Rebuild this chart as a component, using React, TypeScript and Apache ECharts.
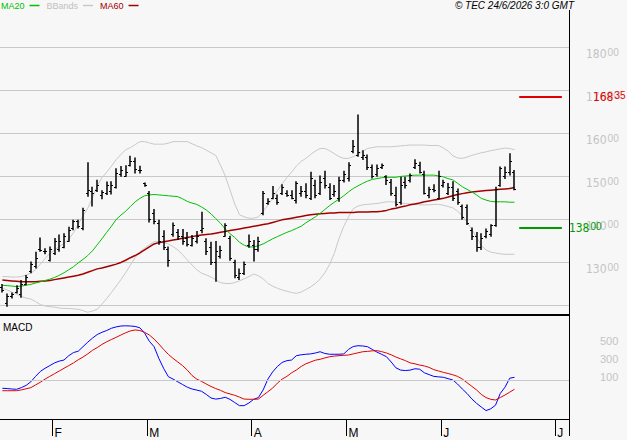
import React, { useEffect, useRef } from 'react';
import * as echarts from 'echarts';

const SLOT_COUNT = 120;
const monthLabels = ['F', 'M', 'A', 'M', 'J', 'J'];
const monthStart = [11, 31, 53, 73, 93, 117];
const priceLabelValues = [130, 140, 150, 160, 170, 180];
const macdLabelValues = [100, 300, 500];
const levelValues = [168.35, 138.0];
const levelColors = ['#e00000', '#009900'];

const open = [
  124.3, 120.5, 122.0, 123.0, 122.5, 125.0, 127.8, 129.0, 133.0, 132.5,
  130.5, 132.0, 133.0, 133.5, 135.0, 137.8, 139.5, 138.0, 146.0, 146.5,
  146.8, 145.5, 146.0, 146.5, 147.5, 150.5, 150.0, 152.6, 153.5, 151.5,
  148.3, 146.0, 141.5, 139.0, 136.0, 133.0, 136.5, 137.0, 136.0, 135.5,
  134.0, 135.0, 137.5, 135.0, 133.5, 130.0, 131.5, 136.0, 135.5, 130.0,
  126.5, 127.5, 134.0, 134.0, 133.0, 141.5, 143.8, 145.0, 145.0, 146.0,
  146.0, 145.5, 144.5, 146.0, 146.5, 145.0, 148.0, 146.0, 149.5, 147.5,
  145.8, 145.0, 149.0, 149.5, 155.8, 155.0, 154.5, 154.5, 152.0, 150.5,
  152.0, 150.0, 148.5, 145.5, 144.0, 148.5, 149.0, 152.0, 152.5, 150.5,
  145.5, 147.0, 145.0, 148.0, 146.0, 147.5, 146.5, 143.0, 142.8, 137.5,
  136.0, 133.5, 136.0, 136.5, 138.5, 148.0, 150.0, 151.0, 151.0,
];
const close = [
  123.6, 122.2, 122.6, 124.0, 125.0, 126.5, 129.5, 131.0, 132.8, 132.6,
  133.0, 134.8, 135.0, 136.0, 137.5, 139.5, 138.3, 142.0, 146.8, 146.0,
  147.8, 146.2, 147.8, 148.0, 150.8, 151.5, 151.0, 153.5, 151.6, 151.4,
  147.8, 140.0, 139.5, 135.0, 133.5, 130.5, 138.6, 136.0, 135.0, 134.2,
  135.5, 136.0, 138.0, 132.5, 130.0, 132.5, 132.8, 138.5, 131.0, 127.0,
  127.5, 129.5, 135.0, 133.0, 135.0, 146.0, 144.2, 146.0, 144.0, 147.5,
  145.6, 145.0, 148.3, 146.5, 145.5, 149.5, 145.5, 148.5, 148.0, 145.0,
  146.5, 149.0, 150.5, 152.5, 157.0, 155.5, 155.0, 152.0, 150.0, 151.8,
  152.5, 149.0, 146.0, 143.5, 148.0, 148.0, 150.2, 153.0, 151.0, 146.0,
  147.0, 146.8, 150.0, 148.5, 147.5, 145.0, 144.0, 140.5, 139.0, 136.0,
  133.5, 135.5, 137.2, 138.5, 147.0, 151.8, 151.0, 153.5, 147.0,
];
const low = [
  122.9, 119.6, 121.5, 122.7, 121.7, 124.6, 127.4, 128.5, 132.4, 131.8,
  130.1, 131.6, 132.4, 133.2, 134.7, 137.4, 137.8, 137.4, 145.2, 142.9,
  146.3, 144.6, 145.6, 145.7, 147.1, 149.8, 149.8, 152.2, 150.6, 150.6,
  147.5, 139.2, 138.8, 134.0, 132.8, 128.9, 135.9, 135.1, 134.0, 133.6,
  133.6, 134.3, 136.7, 131.6, 129.3, 125.4, 130.8, 135.9, 130.3, 126.2,
  125.8, 127.0, 133.3, 130.1, 132.4, 140.9, 143.3, 144.6, 143.3, 145.6,
  145.2, 144.6, 143.6, 145.2, 144.8, 144.4, 144.8, 145.6, 147.1, 144.4,
  145.2, 144.0, 148.5, 148.7, 155.3, 154.5, 153.7, 151.4, 149.4, 149.8,
  151.6, 147.9, 145.4, 142.9, 143.3, 147.1, 148.5, 151.6, 150.6, 145.7,
  144.8, 146.2, 144.6, 147.3, 145.6, 144.2, 143.3, 139.8, 138.6, 135.1,
  132.4, 132.8, 135.5, 135.9, 138.2, 147.5, 149.3, 150.1, 146.7,
];
const high = [
  124.9, 122.7, 122.9, 124.6, 125.8, 127.0, 130.1, 132.4, 135.7, 133.2,
  133.6, 135.6, 136.4, 136.7, 138.2, 139.8, 139.8, 142.6, 153.2, 147.5,
  149.1, 146.7, 148.7, 148.8, 151.8, 152.3, 152.5, 154.7, 154.3, 152.4,
  148.5, 146.5, 142.3, 139.8, 137.4, 133.6, 139.2, 137.7, 137.7, 137.0,
  136.3, 137.2, 141.7, 135.5, 134.7, 134.9, 133.8, 139.0, 136.1, 130.5,
  128.5, 130.1, 136.4, 135.1, 135.9, 146.5, 144.8, 147.7, 145.7, 148.1,
  146.7, 146.7, 148.8, 147.7, 148.3, 151.0, 149.1, 150.1, 151.2, 148.3,
  147.9, 149.8, 151.2, 153.2, 158.4, 164.3, 156.0, 155.0, 152.7, 152.7,
  152.9, 150.2, 149.3, 147.5, 149.8, 149.8, 150.6, 153.9, 153.3, 151.2,
  147.5, 148.1, 151.2, 149.1, 148.4, 148.8, 147.1, 143.4, 143.4, 138.0,
  137.0, 136.7, 137.8, 138.8, 147.5, 152.2, 152.2, 155.3, 151.4,
];
const ma20 = [
  124.6, 124.5, 124.4, 124.3, 124.4, 124.6, 124.8, 125.1, 125.4, 125.7,
  126.0, 126.4, 126.9, 127.5, 128.2, 128.9, 129.8, 130.6, 131.5, 132.6,
  134.0, 135.4, 136.9, 138.3, 139.9, 140.9, 141.8, 142.9, 144.0, 144.8,
  145.4, 145.6, 145.7, 145.6, 145.5, 145.4, 145.3, 145.2, 144.7, 144.1,
  143.7, 143.4, 142.8, 142.1, 141.2, 140.1, 139.0, 137.7, 136.6, 135.7,
  134.6, 133.9, 133.5, 133.5, 133.8, 134.2, 134.8, 135.4, 135.9, 136.4,
  136.9, 137.3, 137.8, 138.3, 139.1, 139.8, 140.5, 141.3, 142.2, 143.1,
  143.9, 144.6, 145.4, 146.3, 147.1, 147.7, 148.3, 148.8, 149.2, 149.4,
  149.6, 149.7, 149.7, 149.7, 149.9, 150.0, 150.1, 150.2, 150.2, 150.2,
  150.2, 150.2, 150.0, 149.8, 149.4, 149.1, 148.3, 147.5, 146.9, 146.3,
  145.6, 144.8, 144.4, 144.1, 144.0, 144.0, 144.0, 143.9, 143.9,
];
const ma60 = [
  125.8, 125.7, 125.6, 125.5, 125.4, 125.4, 125.4, 125.4, 125.5, 125.6,
  125.7, 125.9, 126.1, 126.3, 126.5, 126.7, 126.9, 127.2, 127.6, 128.0,
  128.4, 128.6, 128.9, 129.2, 129.5, 129.9, 130.4, 131.0, 131.5, 132.1,
  132.8, 133.5, 134.2, 134.5, 134.7, 134.9, 135.1, 135.3, 135.5, 135.7,
  135.9, 136.1, 136.3, 136.4, 136.5, 136.7, 136.9, 137.1, 137.3, 137.5,
  137.7, 137.9, 138.1, 138.3, 138.5, 138.7, 138.9, 139.2, 139.5, 139.8,
  140.0, 140.2, 140.4, 140.6, 140.8, 141.0, 141.1, 141.2, 141.3, 141.4,
  141.4, 141.5, 141.5, 141.5, 141.5, 141.6, 141.6, 141.6, 141.7, 141.7,
  141.8, 142.0, 142.3, 142.5, 142.8, 143.0, 143.3, 143.5, 143.7, 144.0,
  144.2, 144.4, 144.6, 144.8, 145.1, 145.4, 145.7, 145.9, 146.1, 146.3,
  146.4, 146.5, 146.6, 146.7, 146.8, 146.9, 147.0, 147.1, 147.3,
];
const bbUpper = [
  126.6, 126.6, 126.5, 126.5, 126.6, 127.0, 127.4, 128.2, 129.5, 130.8,
  132.0, 132.8, 133.6, 134.3, 135.3, 136.8, 138.8, 140.7, 142.5, 144.9,
  147.7, 149.6, 150.9, 152.3, 153.8, 155.0, 156.1, 156.6, 157.3, 158.0,
  158.0, 157.7, 157.4, 157.4, 157.4, 157.6, 158.0, 158.0, 158.0, 158.0,
  157.5, 157.0, 156.6, 156.0, 155.4, 154.8, 152.5, 150.0, 146.8, 143.5,
  141.0, 140.5, 140.2, 140.2, 140.5, 141.8, 143.2, 144.8, 146.6, 148.2,
  149.6, 150.9, 152.3, 153.4, 154.1, 155.0, 155.8, 156.4, 156.4, 155.9,
  155.2, 154.5, 154.1, 154.1, 154.5, 155.0, 155.8, 156.4, 156.6, 156.8,
  156.8, 156.8, 156.8, 156.9, 157.0, 157.1, 157.2, 157.2, 157.2, 157.2,
  157.1, 157.1, 157.1, 156.5, 155.8, 154.7, 154.2, 154.1, 154.4, 154.8,
  155.1, 155.4, 155.6, 155.9, 156.1, 156.3, 156.5, 156.4, 156.1,
];
const bbLower = [
  123.9, 123.5, 123.0, 122.5, 122.0, 121.6, 121.4, 120.8, 120.1, 119.8,
  119.6, 119.5, 119.3, 119.2, 119.2, 119.1, 119.0, 118.7, 118.3, 118.6,
  119.0, 120.2, 121.5, 122.9, 124.4, 125.9, 127.5, 129.3, 131.0, 132.4,
  133.2, 134.0, 134.7, 134.8, 134.6, 134.2, 133.6, 132.8, 131.7, 130.5,
  129.3, 128.2, 127.4, 127.0, 126.5, 125.9, 125.2, 125.0, 125.0, 125.2,
  125.6, 126.1, 126.6, 127.2, 126.8, 126.1, 125.0, 124.4, 123.9, 123.5,
  123.2, 122.9, 122.7, 123.0, 123.6, 124.2, 125.0, 126.0, 127.5, 129.4,
  132.0, 135.5, 138.3, 140.5, 142.4, 143.0, 143.3, 143.4, 143.5, 143.6,
  143.8, 144.0, 144.0, 143.9, 143.7, 143.6, 143.5, 143.4, 143.3, 143.3,
  143.3, 143.4, 143.4, 143.2, 142.9, 142.6, 141.8, 140.8, 139.2, 137.6,
  135.8, 133.8, 132.8, 132.3, 132.1, 131.9, 131.8, 131.8, 131.8,
];
const macd = [
  -92, -95, -100, -103, -85, -60, -20, 40, 95, 130,
  160, 190, 210, 222, 270, 305, 320, 370, 420, 465,
  505, 530, 550, 575, 590, 600, 602, 600, 595, 580,
  520, 430, 370, 240, 130, 37, 10, -20, -50, -80,
  -100, -112, -125, -160, -200, -212, -205, -192, -215, -250,
  -285, -285, -255, -215, -195, -110, 10, 90, 150, 195,
  215, 222, 270, 280, 286, 290, 300, 314, 295, 286,
  286, 286, 290, 340, 372, 381, 378, 370, 340, 310,
  285, 259, 200, 135, 110, 105, 110, 125, 120, 80,
  60, 40, 35, 30, 15, 0, -45, -100, -150, -210,
  -259, -300, -340, -320, -280, -150, -80, 20, 30,
];
const signal = [
  -119, -119, -119, -119, -110, -98, -85, -55, -25, 10,
  40, 70, 100, 130, 160, 190, 225, 255, 290, 330,
  360, 395, 425, 450, 474, 500, 525, 545, 556, 550,
  530, 500, 455, 400, 340, 285, 240, 200, 160, 110,
  50, 10, -15, -45, -72, -95, -115, -140, -155, -170,
  -190, -212, -214, -214, -212, -170, -130, -90, -35, 10,
  40, 80, 111, 150, 180, 200, 220, 230, 245, 258,
  266, 270, 274, 278, 290, 302, 314, 318, 324, 326,
  315, 300, 280, 255, 235, 215, 190, 180, 166, 156,
  140, 115, 100, 85, 72, 58, 40, 10, -30, -70,
  -110, -160, -195, -215, -222, -195, -167, -135, -103,
];

const FONT = '"Liberation Sans", Arial, sans-serif';
const NARROW = '"Liberation Sans Narrow", "DejaVu Sans Condensed", "Liberation Sans", Arial, sans-serif';

function supText(v: number) {
  const [a, b] = v.toFixed(2).split('.');
  return `{a|${a}}{b|${b}}`;
}

export default function App() {
  const ref = useRef<HTMLDivElement>(null);
  useEffect(() => {
    const chart = echarts.init(ref.current!, null, { renderer: 'svg' });
    const categories = Array.from({ length: SLOT_COUNT }, (_, i) => {
      const k = monthStart.indexOf(i);
      return k >= 0 ? monthLabels[k] : '';
    });
    const ohlc = open.map((o, i) => [i, o, close[i], low[i], high[i]]);
    const isMonth = (i: number) => monthStart.indexOf(i) >= 0;
    const supRich = (color: string) => ({
      a: { fontSize: 12, color, fontFamily: NARROW, lineHeight: 13 },
      b: { fontSize: 10, color, fontFamily: FONT, verticalAlign: 'top', lineHeight: 13, padding: [0, 0, 0, 1] },
    });
    const xBase = {
      type: 'category',
      data: categories,
      boundaryGap: true,
      axisLine: { show: false },
      axisTick: { show: false },
      axisLabel: { show: false },
      splitLine: { show: false },
    };
    const lineSeries = (name: string, data: number[], color: string, width: number, xi = 0) => ({
      name,
      type: 'line',
      data,
      xAxisIndex: xi,
      yAxisIndex: xi,
      symbol: 'none',
      showSymbol: false,
      color,
      itemStyle: { color },
      lineStyle: { color, width },
      silent: true,
      z: 3,
    });
    const option: any = {
      animation: false,
      backgroundColor: '#f7f7f7',
      textStyle: { fontFamily: FONT },
      title: [
        {
          text: '© TEC 24/6/2026 3:0 GMT',
          right: 53,
          top: 0,
          padding: 0,
          textStyle: { fontSize: 10, fontStyle: 'italic', fontWeight: 'normal', color: '#000', fontFamily: FONT, lineHeight: 11 },
        },
        {
          text: 'MACD',
          left: 3,
          top: 322,
          padding: 0,
          textStyle: { fontSize: 10, fontWeight: 'normal', color: '#000', fontFamily: FONT, lineHeight: 11 },
        },
      ],
      legend: {
        left: 0,
        top: 0,
        padding: [1, 0, 0, 1],
        align: 'right',
        icon: 'rect',
        itemWidth: 10,
        itemHeight: 1.5,
        itemGap: 7,
        selectedMode: false,
        textStyle: { fontSize: 9, fontFamily: FONT, padding: [0, 0, 0, 0] },
        data: [
          { name: 'MA20', textStyle: { color: '#00c000' } },
          { name: 'BBands', textStyle: { color: '#c0c0c0' } },
          { name: 'MA60', textStyle: { color: '#a00000' } },
        ],
      },
      grid: [
        { left: 0, right: 58, top: 4, bottom: 92 },
        { left: 0, right: 58, top: 308, bottom: 15 },
        { left: 0, right: 58, top: 400, bottom: 21 },
      ],
      xAxis: [
        { ...xBase, gridIndex: 0 },
        { ...xBase, gridIndex: 1 },
        {
          ...xBase,
          gridIndex: 2,
          axisLine: { show: true, lineStyle: { color: '#000', width: 1 } },
          axisTick: { show: true, interval: (i: number) => isMonth(i), length: 17, lineStyle: { color: '#000', width: 1 } },
          axisLabel: {
            show: true,
            interval: (i: number) => isMonth(i),
            align: 'left',
            margin: 8,
            fontSize: 12,
            color: '#000',
            fontFamily: FONT,
          },
        },
      ],
      yAxis: [
        {
          gridIndex: 0,
          type: 'value',
          position: 'right',
          min: 110,
          max: 190,
          interval: 10,
          axisLine: { show: false },
          axisTick: { show: false },
          splitLine: { show: true, showMinLine: false, showMaxLine: false, lineStyle: { color: '#c8c8c8', width: 1 } },
          axisLabel: {
            margin: 17,
            verticalAlign: 'top',
            formatter: (v: number) => (priceLabelValues.indexOf(v) >= 0 ? supText(v) : ''),
            rich: supRich('#c4c4c4'),
          },
        },
        {
          gridIndex: 1,
          type: 'value',
          position: 'right',
          min: -500,
          max: 800,
          interval: 100,
          axisLine: { show: false },
          axisTick: { show: false },
          splitLine: { show: false },
          axisLabel: {
            margin: 31,
            verticalAlign: 'top',
            fontSize: 11,
            color: '#c4c4c4',
            fontFamily: FONT,
            formatter: (v: number) => (macdLabelValues.indexOf(v) >= 0 ? String(v) : ''),
          },
        },
        { gridIndex: 2, type: 'value', show: false },
      ],
      series: [
        lineSeries('BBands', bbUpper, '#c8c8c8', 1),
        lineSeries('BBands', bbLower, '#c8c8c8', 1),
        lineSeries('MA60', ma60, '#a00000', 1.5),
        lineSeries('MA20', ma20, '#00c000', 1),
        {
          name: 'OHLC',
          type: 'custom',
          xAxisIndex: 0,
          yAxisIndex: 0,
          data: ohlc,
          encode: { x: 0, y: [1, 2, 3, 4] },
          silent: true,
          z: 5,
          renderItem: (params: any, api: any) => {
            const i = api.value(0);
            const pH = api.coord([i, api.value(4)]);
            const pL = api.coord([i, api.value(3)]);
            const pO = api.coord([i, api.value(1)]);
            const pC = api.coord([i, api.value(2)]);
            const x = Math.round(pH[0]);
            const st = { stroke: '#000', lineWidth: 1.5 };
            const st2 = { stroke: '#000', lineWidth: 1 };
            const yo = Math.round(pO[1]) + 0.5;
            const yc = Math.round(pC[1]) + 0.5;
            return {
              type: 'group',
              children: [
                { type: 'line', shape: { x1: x, y1: pH[1], x2: x, y2: pL[1] }, style: st },
                { type: 'line', shape: { x1: x - 2, y1: yo, x2: x, y2: yo }, style: st2 },
                { type: 'line', shape: { x1: x, y1: yc, x2: x + 2, y2: yc }, style: st2 },
              ],
            };
          },
          markLine: {
            silent: true,
            symbol: 'none',
            animation: false,
            data: levelValues.map((v, k) => [
              {
                coord: [109, v],
                lineStyle: { color: levelColors[k], width: 2, type: 'solid' },
                label: {
                  show: true,
                  position: 'end',
                  distance: k === 0 ? 31 : 7,
                  formatter: supText(v),
                  rich: supRich(levelColors[k]),
                },
              },
              { coord: [118, v] },
            ]),
          },
        },
        {
          ...lineSeries('MACD', macd, '#0000ff', 1, 1),
          markLine: {
            silent: true,
            symbol: 'none',
            animation: false,
            label: { show: false },
            lineStyle: { color: '#c8c8c8', width: 1, type: 'solid' },
            data: [{ yAxis: 0 }],
          },
        },
        lineSeries('Signal', signal, '#e00000', 1, 1),
      ],
      graphic: [
        { type: 'line', z: 100, shape: { x1: 569.5, y1: 10, x2: 569.5, y2: 419 }, style: { stroke: '#000', lineWidth: 1 } },
        { type: 'rect', z: 100, shape: { x: 0, y: 314, width: 570, height: 2 }, style: { fill: '#000' } },
      ],
    };
    chart.setOption(option);
    return () => chart.dispose();
  }, []);
  return <div ref={ref} style={{ position: 'absolute', left: 0, top: 0, width: 627, height: 440 }} />;
}
